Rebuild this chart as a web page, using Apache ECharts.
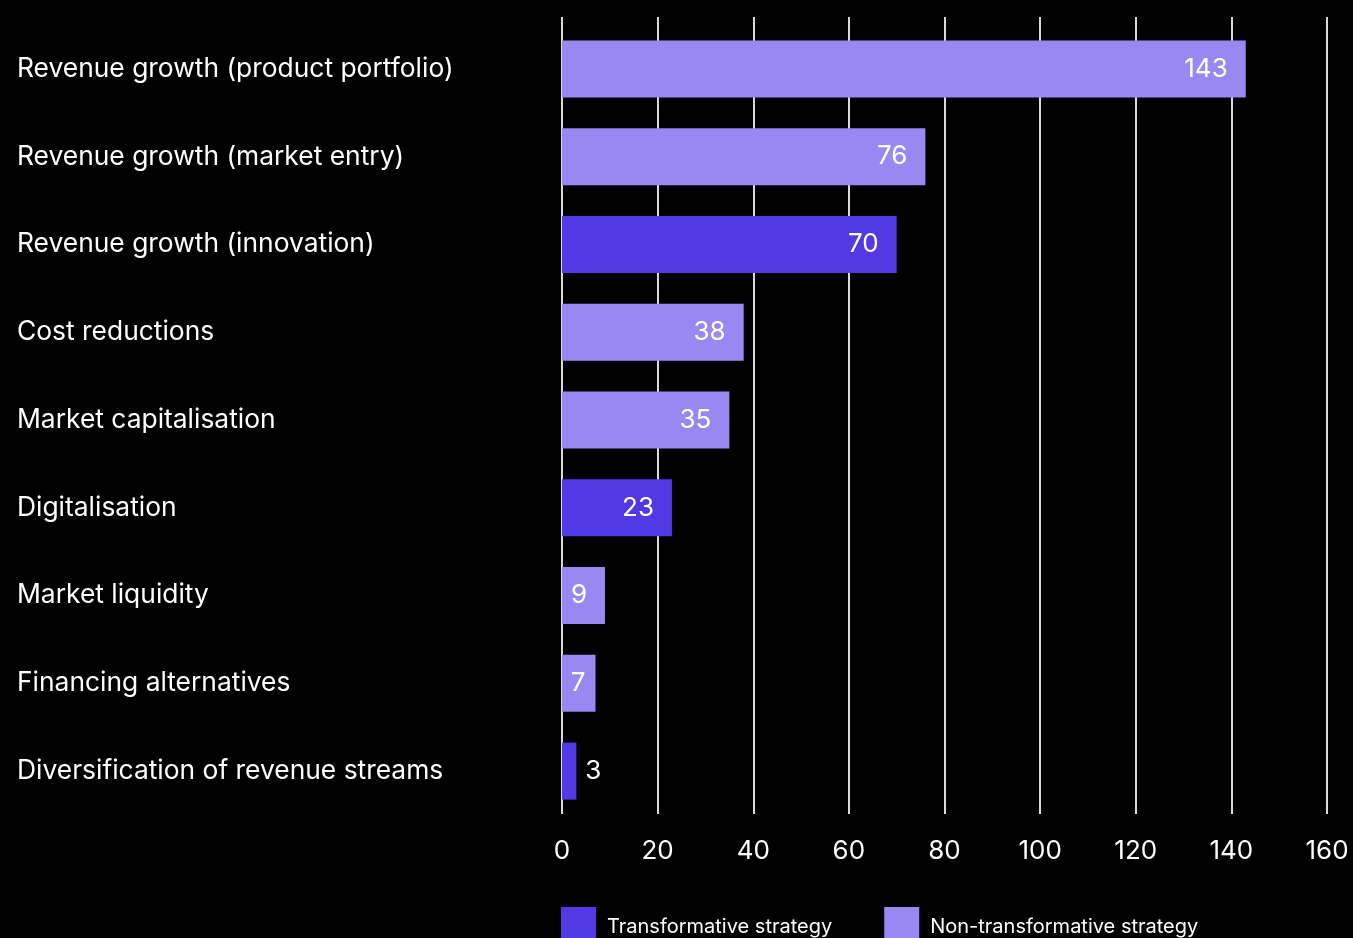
<!DOCTYPE html>
<html>
<head>
<meta charset="utf-8">
<script src="https://cdn.jsdelivr.net/npm/echarts@6/dist/echarts.min.js"></script>
<style>
  html, body { margin: 0; padding: 0; background: #000; }
  #chart { width: 1353px; height: 938px; }
</style>
</head>
<body>
<div id="chart"></div>
<script>
// Benefits of listing, counted by strategy type
const categories = [
  'Revenue growth (product portfolio)',
  'Revenue growth (market entry)',
  'Revenue growth (innovation)',
  'Cost reductions',
  'Market capitalisation',
  'Digitalisation',
  'Market liquidity',
  'Financing alternatives',
  'Diversification of revenue streams'
];
const transformative    = ['-', '-', 70, '-', '-', 23, '-', '-', 3];
const nonTransformative = [143, 76, '-', 38, 35, '-', 9, 7, '-'];
const xTicks = [0, 20, 40, 60, 80, 100, 120, 140, 160];

const DARK = '#5338E6';
const LIGHT = '#9A88F2';
const FONT = 'Inter, "Noto Sans", sans-serif';

// Short bars get their value outside, the rest inside at the bar end
function withLabels(values) {
  return values.map(v => {
    if (v === '-') return v;
    return {
      value: v,
      label: v < 5
        ? { position: 'right', distance: 9 }
        : { position: 'insideRight', distance: v < 8 ? 10 : 18 }
    };
  });
}

const chart = echarts.init(document.getElementById('chart'));
chart.setOption({
  backgroundColor: '#000',
  textStyle: { fontFamily: FONT },
  grid: [
    // frame for the vertical gridlines and tick labels
    { left: 562, right: 26, top: 17, bottom: 124 },
    // frame for the bars and category labels
    { left: 562, right: 26, top: 25, bottom: 123 }
  ],
  legend: {
    left: 556, top: 902,
    itemWidth: 35, itemHeight: 32, itemGap: 52,
    icon: 'rect',
    formatter: name => '{t|' + name + '}',
    textStyle: {
      color: '#fff', fontSize: 20, fontFamily: FONT,
      rich: { t: { color: '#fff', fontSize: 20, fontFamily: FONT, padding: [8, 0, 0, 6] } }
    },
    data: ['Transformative strategy', 'Non-transformative strategy']
  },
  xAxis: [
    {
      gridIndex: 0, type: 'value', min: 0, max: 160, interval: 20,
      axisLine: { show: false }, axisTick: { show: false },
      splitLine: { show: true, lineStyle: { color: '#d9d9d9', width: 2 } },
      axisLabel: {
        color: '#fff', fontSize: 26, fontFamily: FONT, margin: 24,
        formatter: v => xTicks.includes(v) ? String(v) : ''
      }
    },
    {
      gridIndex: 1, type: 'value', min: 0, max: 160, interval: 20,
      axisLine: { show: false }, axisTick: { show: false },
      splitLine: { show: false }, axisLabel: { show: false }
    }
  ],
  yAxis: [
    {
      gridIndex: 0, type: 'category', data: categories, inverse: true,
      axisLine: { show: false }, axisTick: { show: false }, axisLabel: { show: false }
    },
    {
      gridIndex: 1, type: 'category', data: categories, inverse: true,
      axisLine: { show: false }, axisTick: { show: false },
      axisLabel: { color: '#fff', fontSize: 26.4, fontFamily: FONT, align: 'left', margin: 545 }
    }
  ],
  series: [
    {
      name: 'Transformative strategy', type: 'bar', stack: 'total',
      xAxisIndex: 1, yAxisIndex: 1,
      barWidth: 57,
      itemStyle: { color: DARK },
      label: { show: true, color: '#fff', fontSize: 26, fontFamily: FONT },
      data: withLabels(transformative)
    },
    {
      name: 'Non-transformative strategy', type: 'bar', stack: 'total',
      xAxisIndex: 1, yAxisIndex: 1,
      barWidth: 57,
      itemStyle: { color: LIGHT },
      label: { show: true, color: '#fff', fontSize: 26, fontFamily: FONT },
      data: withLabels(nonTransformative)
    }
  ]
});
</script>
</body>
</html>
